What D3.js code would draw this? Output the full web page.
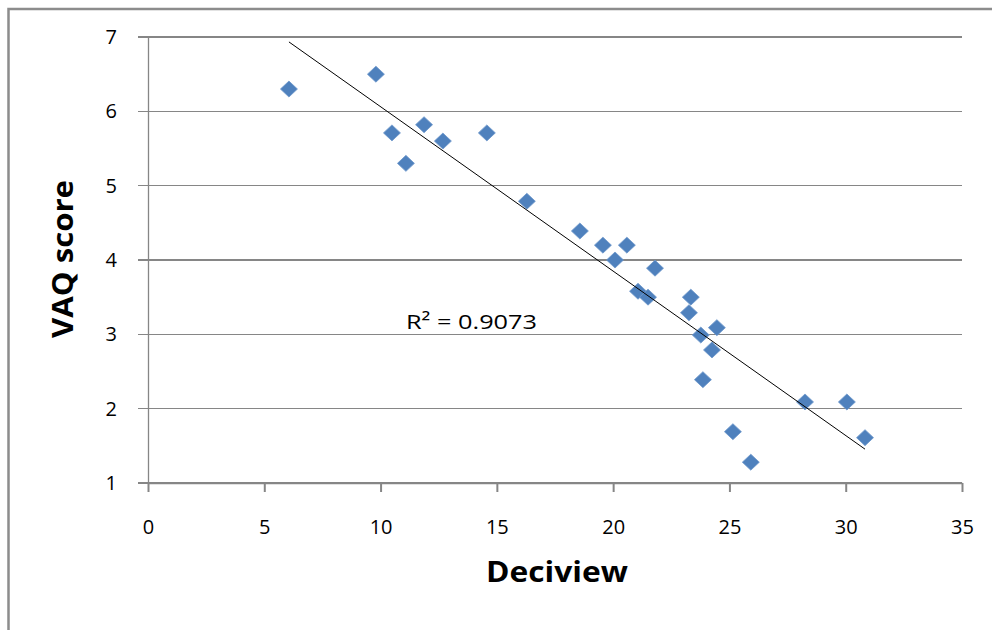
<!DOCTYPE html>
<html><head><meta charset="utf-8">
<script src="https://cdn.jsdelivr.net/npm/d3@7"></script>
<style>body{margin:0;background:#fff}svg{display:block}</style>
</head><body>
<svg id="c" width="992" height="630"></svg>
<script>
const deciview = [6.06, 9.80, 10.49, 11.09, 11.87, 12.68, 14.57, 16.29, 18.57, 19.56, 20.59, 20.08, 21.80, 21.07, 21.50, 23.34, 23.26, 24.46, 23.77, 24.25, 23.86, 25.15, 25.92, 28.25, 30.05, 30.83];
const vaq      = [6.30, 6.50, 5.71, 5.30, 5.82, 5.60, 5.71, 4.79, 4.39, 4.20, 4.20, 4.00, 3.89, 3.58, 3.50, 3.50, 3.29, 3.09, 2.99, 2.79, 2.39, 1.69, 1.28, 2.09, 2.09, 1.61];
const xTicks = [0, 5, 10, 15, 20, 25, 30, 35];
const yTicks = [1, 2, 3, 4, 5, 6, 7];
const xTitle = "Deciview";
const yTitle = "VAQ score";
const r2Label = "R² = 0.9073";

const svg = d3.select("#c");
const font = "'Open Sans', 'Liberation Sans', sans-serif";
const grey = "#868686";

// frame
svg.append("rect").attr("x", 8.5).attr("y", 9).attr("width", 1200).attr("height", 1000)
  .attr("fill", "none").attr("stroke", "#8c8c8c").attr("stroke-width", 2.5);

const x = d3.scaleLinear().domain([0, 35]).range([148, 962]);
const y = d3.scaleLinear().domain([1, 7]).range([483, 37]);

// gridlines
svg.append("g").selectAll("line").data(yTicks).join("line")
  .attr("x1", 138).attr("x2", x(35)).attr("y1", d => y(d)).attr("y2", d => y(d))
  .attr("stroke", grey).attr("stroke-width", d => d === 7 ? 2 : 1.3).attr("shape-rendering", "crispEdges");

// y axis
const yAxis = svg.append("g").attr("transform", `translate(${x(0)},0)`)
  .call(d3.axisLeft(y).tickValues(yTicks).tickSize(0).tickPadding(31).tickFormat(d3.format("d")));
yAxis.select(".domain").attr("stroke", grey).attr("stroke-width", 1.3);
yAxis.selectAll("text").attr("font-family", font).attr("font-size", 20).attr("fill", "#000");

// x axis
const xAxis = svg.append("g").attr("transform", `translate(0,${y(1)})`)
  .call(d3.axisBottom(x).tickValues(xTicks).tickSize(9).tickPadding(28).tickSizeOuter(0).tickFormat(d3.format("d")));
xAxis.select(".domain").attr("stroke", grey).attr("stroke-width", 1.3);
xAxis.selectAll(".tick line").attr("stroke", grey).attr("stroke-width", 2);
xAxis.selectAll("text").attr("font-family", font).attr("font-size", 20).attr("fill", "#000");

// points
const pts = deciview.map((d, i) => [d, vaq[i]]);
svg.append("g").selectAll("path").data(pts).join("path")
  .attr("transform", d => `translate(${x(d[0])},${y(d[1])})`)
  .attr("d", "M0,-8L8.5,0L0,8L-8.5,0Z")
  .attr("fill", "#4F81BD").attr("stroke", "#6f98cc").attr("stroke-width", 0.8);

// linear trendline via least squares
const mx = d3.mean(deciview), my = d3.mean(vaq);
const sxy = d3.sum(pts, d => (d[0] - mx) * (d[1] - my));
const sxx = d3.sum(pts, d => (d[0] - mx) ** 2);
const slope = sxy / sxx, icpt = my - slope * mx;
const [x0, x1] = d3.extent(deciview);
svg.append("line")
  .attr("x1", x(x0)).attr("y1", y(icpt + slope * x0))
  .attr("x2", x(x1)).attr("y2", y(icpt + slope * x1))
  .attr("stroke", "#000").attr("stroke-width", 1);

// R2 label
svg.append("text").attr("x", 406).attr("y", 329).text(r2Label)
  .attr("font-family", font).attr("font-size", 20).attr("fill", "#000")
  .attr("textLength", 131).attr("lengthAdjust", "spacingAndGlyphs");

// axis titles
svg.append("text").attr("x", 557).attr("y", 582).attr("text-anchor", "middle")
  .attr("font-family", font).attr("font-weight", "bold").attr("font-size", 28)
  .attr("textLength", 142).attr("lengthAdjust", "spacingAndGlyphs").text(xTitle);
svg.append("text").attr("transform", "translate(73,259) rotate(-90)").attr("text-anchor", "middle")
  .attr("font-family", font).attr("font-weight", "bold").attr("font-size", 28)
  .attr("textLength", 158).attr("lengthAdjust", "spacingAndGlyphs").text(yTitle);
</script>
</body></html>
